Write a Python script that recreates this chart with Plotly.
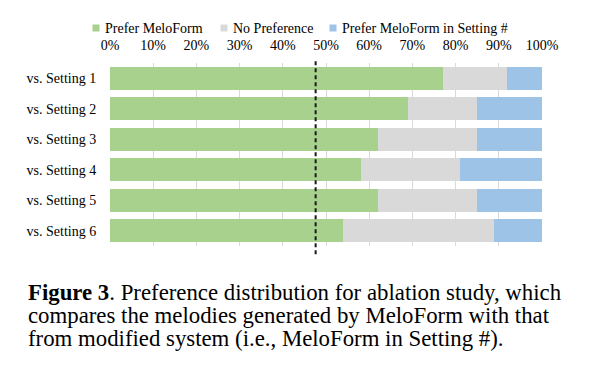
import plotly.graph_objects as go

categories = ["vs. Setting 1", "vs. Setting 2", "vs. Setting 3",
              "vs. Setting 4", "vs. Setting 5", "vs. Setting 6"]
prefer_meloform = [77, 69, 62, 58, 62, 54]
no_preference = [15, 16, 23, 23, 23, 35]
prefer_setting = [8, 15, 15, 19, 15, 11]
series_names = ["Prefer MeloForm", "No Preference", "Prefer MeloForm in Setting #"]
series_colors = ["#A9D18E", "#D9D9D9", "#9DC3E6"]
reference_line = 47.6
tick_vals = [0, 10, 20, 30, 40, 50, 60, 70, 80, 90, 100]
tick_text = [f"{v}%" for v in tick_vals]
caption_lines = ["<b>Figure 3</b>. Preference distribution for ablation study, which",
                 "compares the melodies generated by MeloForm with that",
                 "from modified system (i.e., MeloForm in Setting #)."]

serif = "Liberation Serif, Times New Roman, serif"

# The page body adds an 8px offset, so the figure is laid out 8px smaller.
W, H = 584, 375
ML, MR, MT, MB = 102, 50, 55, 137
PW = W - ML - MR
PH = H - MT - MB


def px_x(p):  # figure pixel -> paper x
    return (p - ML) / PW


def px_y(p):  # figure pixel -> paper y
    return (H - MB - p) / PH


fig = go.Figure()
for name, vals, col in zip(series_names, [prefer_meloform, no_preference, prefer_setting], series_colors):
    fig.add_trace(go.Bar(y=categories, x=vals, name=name, orientation="h", showlegend=False,
                         marker=dict(color=col, line=dict(width=0))))

fig.add_shape(type="line", x0=reference_line, x1=reference_line, y0=-0.045, y1=1.01,
              xref="x", yref="paper", line=dict(color="#1a1a1a", width=2, dash="4px,3px"))

# legend drawn as swatches + labels (icon centre, text start in figure pixels)
legend_icon_x = [88, 216, 325]
legend_text_x = [95, 223, 332]
legend_y = 20
for name, col, ix, tx in zip(series_names, series_colors, legend_icon_x, legend_text_x):
    fig.add_shape(type="rect", xref="paper", yref="paper",
                  xsizemode="pixel", ysizemode="pixel",
                  xanchor=px_x(ix), yanchor=px_y(legend_y),
                  x0=-3.5, x1=3.5, y0=-3.5, y1=3.5,
                  fillcolor=col, line=dict(width=0))
    fig.add_annotation(text=name, xref="paper", yref="paper",
                       x=px_x(tx), y=px_y(legend_y), xanchor="left", yanchor="middle",
                       showarrow=False, font=dict(family=serif, size=14, color="black"))

for i, line in enumerate(caption_lines):
    ypix = 284.5 + 23 * i
    fig.add_annotation(text=line, xref="paper", yref="paper",
                       x=px_x(18), y=px_y(ypix),
                       xanchor="left", yanchor="middle", align="left", showarrow=False,
                       font=dict(family=serif, size=22.8, color="black"))

fig.update_layout(
    width=W, height=H,
    margin=dict(l=ML, r=MR, t=MT, b=MB),
    barmode="stack", bargap=0.25,
    paper_bgcolor="white", plot_bgcolor="white",
    font=dict(family=serif, size=14, color="black"),
    showlegend=False,
    xaxis=dict(side="top", range=[0, 100], tickvals=tick_vals, ticktext=tick_text,
               showgrid=True, gridcolor="#D9D9D9", gridwidth=1, zeroline=False,
               showline=False, ticks="outside", ticklen=6, tickcolor="white",
               automargin=False, tickfont=dict(family=serif, size=14)),
    yaxis=dict(autorange="reversed", showgrid=False, showline=False, zeroline=False,
               ticks="outside", ticklen=10, tickcolor="white", automargin=False,
               tickfont=dict(family=serif, size=14)),
)

fig.write_html("out.html")
